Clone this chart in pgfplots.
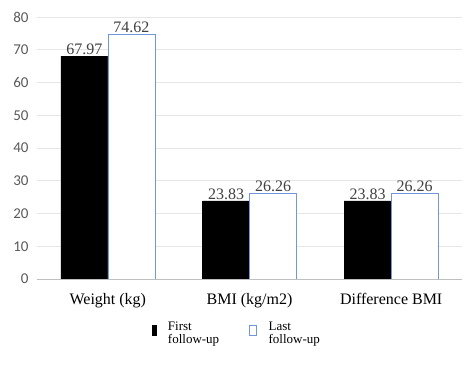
\documentclass[border=0pt]{standalone}
\usepackage{pgfplots}
\pgfplotsset{compat=1.18}
\usepackage{fontspec}
\setmainfont{Liberation Serif}
\newfontfamily\calfont{Carlito}
\definecolor{lastblue}{HTML}{7096DC}
\definecolor{gridgray}{HTML}{E6E6E6}
\definecolor{axgray}{HTML}{BFBFBF}
\definecolor{ticktext}{HTML}{595959}
\definecolor{lbl}{HTML}{404040}
\begin{document}
\begin{tikzpicture}[x=1pt,y=1pt]
\path (0,0) rectangle (468,364);
\begin{axis}[
  at={(37pt,85pt)}, anchor=south west,
  scale only axis, width=425pt, height=262pt,
  ybar=0pt, bar width=47pt,
  xmin=-0.5, xmax=2.5, ymin=0, ymax=80,
  ytick={0,10,...,80},
  xtick=data,
  xticklabels={Weight (kg), BMI (kg/m2), Difference BMI},
  axis line style={draw=none},
  major tick length=0pt,
  ymajorgrids, grid style={gridgray, line width=0.6pt},
  /pgf/number format/assume math mode=true,
  yticklabel style={font=\calfont\fontsize{15}{17}\selectfont, text=ticktext, xshift=-5pt},
  xticklabel style={font=\fontsize{16}{18}\selectfont, text=black, yshift=-11pt},
  nodes near coords,
  point meta=explicit symbolic,
  every node near coord/.append style={font=\fontsize{16}{18}\selectfont, text=lbl, yshift=-2pt},
  legend style={draw=none, legend columns=2, at={(0.262,-0.145)}, anchor=north west,
    font=\fontsize{13}{14}\selectfont,
    /tikz/every odd column/.append style={column sep=10pt},
    /tikz/every even column/.append style={column sep=28pt}},
  legend cell align=left,
]
\addplot[fill=black, draw=black,
  legend image code/.code={\draw[fill=black, draw=black] (0pt,-5pt) rectangle (4pt,5pt);}]
  coordinates {(0,67.97)[67.97] (1,23.83)[23.83] (2,23.83)[23.83]};
\addlegendentry{\begin{tabular}{@{}l@{}}First\\[-1pt]follow-up\end{tabular}}
\addplot[fill=white, draw=lastblue,
  legend image code/.code={\draw[fill=white, draw=lastblue] (0pt,-5pt) rectangle (7pt,5pt);}]
  coordinates {(0,74.62)[74.62] (1,26.26)[26.26] (2,26.26)[26.26]};
\addlegendentry{\begin{tabular}{@{}l@{}}Last\\[-1pt]follow-up\end{tabular}}
\draw[axgray, line width=0.7pt] (rel axis cs:0,0) -- (rel axis cs:1,0);
\end{axis}
\end{tikzpicture}
\end{document}
